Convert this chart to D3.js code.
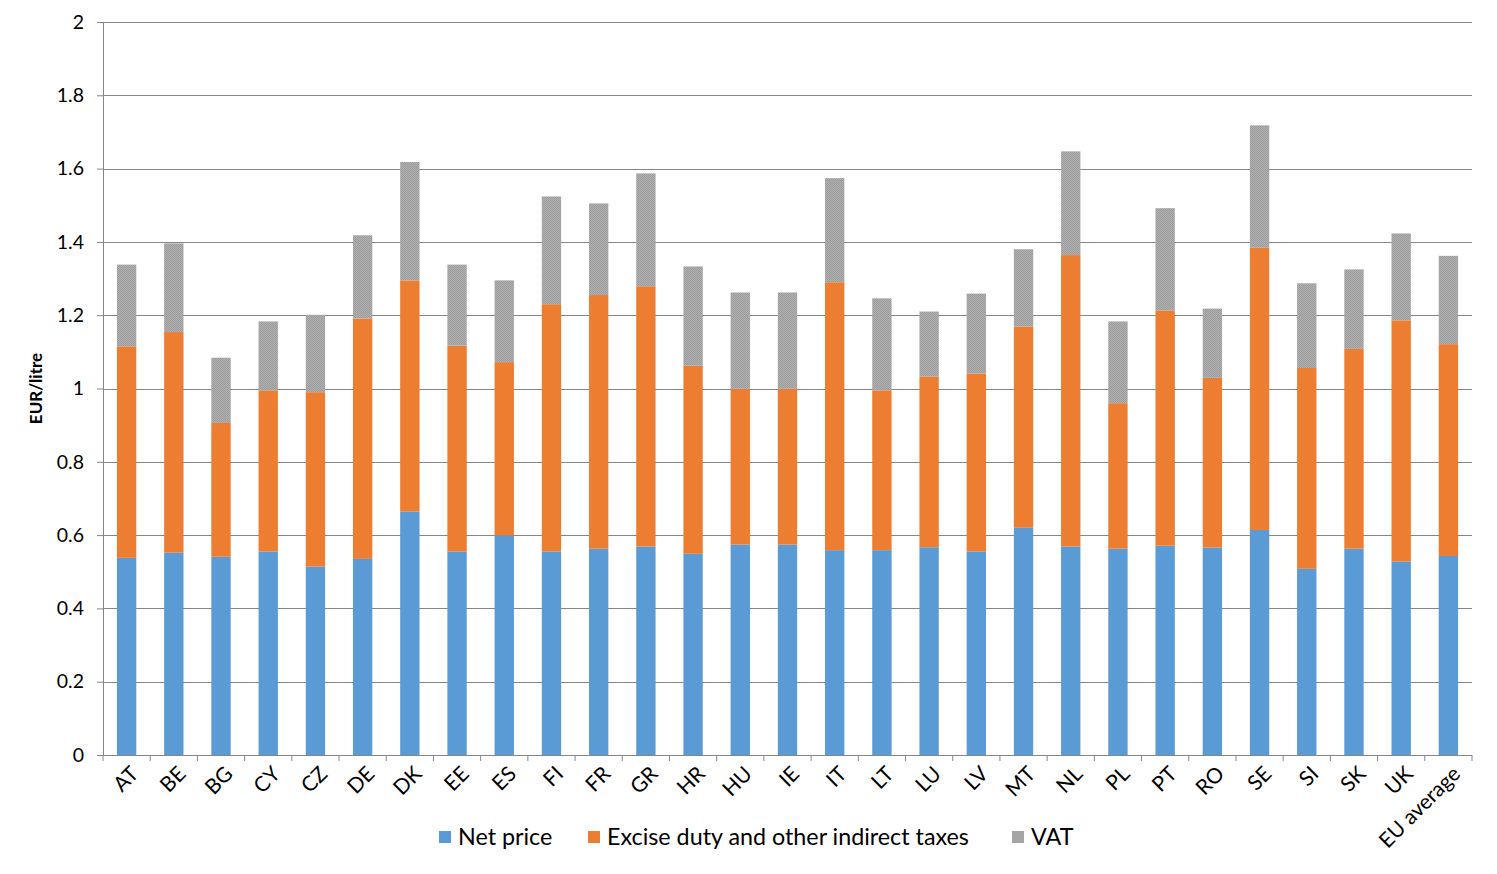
<!DOCTYPE html>
<html>
<head>
<meta charset="utf-8">
<script src="https://cdn.jsdelivr.net/npm/d3@7"></script>
<style>
  body { margin: 0; background: #fff; }
  text { font-family: Lato, "Open Sans", sans-serif; fill: #000; }
</style>
</head>
<body>
<svg id="chart" width="1497" height="874"></svg>
<script>
const countries = ["AT", "BE", "BG", "CY", "CZ", "DE", "DK", "EE", "ES", "FI", "FR", "GR", "HR", "HU",
  "IE", "IT", "LT", "LU", "LV", "MT", "NL", "PL", "PT", "RO", "SE", "SI", "SK", "UK", "EU average"];

const netPrice = [0.538, 0.552, 0.541, 0.555, 0.514, 0.535, 0.664, 0.555, 0.599, 0.555, 0.563, 0.569, 0.549, 0.574,
  0.574, 0.559, 0.559, 0.567, 0.555, 0.620, 0.569, 0.563, 0.571, 0.566, 0.614, 0.508, 0.563, 0.528, 0.543];

const exciseDuty = [0.577, 0.602, 0.365, 0.440, 0.476, 0.656, 0.631, 0.562, 0.473, 0.675, 0.692, 0.710, 0.513, 0.425,
  0.425, 0.731, 0.436, 0.466, 0.486, 0.549, 0.795, 0.397, 0.642, 0.463, 0.770, 0.548, 0.545, 0.658, 0.578];

const vat = [0.223, 0.242, 0.178, 0.188, 0.211, 0.227, 0.323, 0.221, 0.223, 0.294, 0.250, 0.308, 0.271, 0.263,
  0.263, 0.284, 0.251, 0.177, 0.218, 0.211, 0.283, 0.223, 0.279, 0.189, 0.334, 0.231, 0.217, 0.237, 0.241];

const seriesNames = ["Net price", "Excise duty and other indirect taxes", "VAT"];
const yTicks = [0, 0.2, 0.4, 0.6, 0.8, 1, 1.2, 1.4, 1.6, 1.8, 2];

const rows = countries.map((c, i) => ({ country: c, net: netPrice[i], excise: exciseDuty[i], vat: vat[i] }));
const keys = ["net", "excise", "vat"];

const plotLeft = 103, plotRight = 1472, plotTop = 22, plotBottom = 755;
const gridColor = "#868686";

const svg = d3.select("#chart");

// fine dotted texture for VAT, like the Excel fill
const defs = svg.append("defs");
const pat = defs.append("pattern")
  .attr("id", "vatFill")
  .attr("width", 2).attr("height", 2)
  .attr("patternUnits", "userSpaceOnUse");
pat.append("rect").attr("width", 2).attr("height", 2).attr("fill", "#b0b0b0");
pat.append("rect").attr("width", 1).attr("height", 1).attr("fill", "#9c9c9c");
pat.append("rect").attr("x", 1).attr("y", 1).attr("width", 1).attr("height", 1).attr("fill", "#9c9c9c");

const color = d3.scaleOrdinal().domain(keys).range(["#5b9bd5", "#ed7d31", "url(#vatFill)"]);
const legendColor = ["#5b9bd5", "#ed7d31", "#a5a5a5"];

const x = d3.scaleBand()
  .domain(countries)
  .range([plotLeft, plotRight])
  .paddingInner(0.59)
  .paddingOuter(0.295);

const y = d3.scaleLinear().domain([0, 2]).range([plotBottom, plotTop]);

// gridlines + y axis
const yAxis = svg.append("g")
  .attr("transform", `translate(${plotLeft},0)`)
  .call(d3.axisLeft(y)
    .tickValues(yTicks)
    .tickSize(6)
    .tickFormat(d => String(+d.toFixed(1))));
yAxis.select(".domain").remove();
yAxis.selectAll(".tick line").attr("stroke", gridColor);
yAxis.selectAll(".tick text")
  .attr("x", -19)
  .style("font-size", "19.5px");

svg.append("g")
  .selectAll("line")
  .data(yTicks.filter(d => d > 0))
  .enter()
  .append("line")
  .attr("x1", plotLeft).attr("x2", plotRight)
  .attr("y1", d => Math.round(y(d)) + 0.5)
  .attr("y2", d => Math.round(y(d)) + 0.5)
  .attr("stroke", gridColor)
  .attr("stroke-width", 1.2);

// vertical axis line
svg.append("line")
  .attr("x1", plotLeft + 0.5).attr("x2", plotLeft + 0.5)
  .attr("y1", y(2)).attr("y2", y(0))
  .attr("stroke", gridColor);

// bars
const stacked = d3.stack().keys(keys)(rows);

svg.append("g")
  .selectAll("g")
  .data(stacked)
  .enter()
  .append("g")
  .attr("fill", s => color(s.key))
  .selectAll("rect")
  .data(s => s)
  .enter()
  .append("rect")
  .attr("x", d => x(d.data.country))
  .attr("width", x.bandwidth())
  .attr("y", d => y(d[1]))
  .attr("height", d => y(d[0]) - y(d[1]));

// x axis with ticks at category boundaries
const boundaries = countries.map(c => x(c) + x.bandwidth() / 2 - x.step() / 2);
boundaries.push(plotRight);

svg.append("line")
  .attr("x1", plotLeft).attr("x2", plotRight)
  .attr("y1", plotBottom + 0.5).attr("y2", plotBottom + 0.5)
  .attr("stroke", gridColor)
  .attr("stroke-width", 1.2);

svg.append("g")
  .selectAll("line")
  .data(boundaries)
  .enter()
  .append("line")
  .attr("x1", d => d).attr("x2", d => d)
  .attr("y1", plotBottom).attr("y2", plotBottom + 6)
  .attr("stroke", gridColor);

svg.append("g")
  .selectAll("text")
  .data(countries)
  .enter()
  .append("text")
  .attr("transform", d => `translate(${x(d) + x.bandwidth() / 2 + 8},${plotBottom + 15}) rotate(-45)`)
  .attr("text-anchor", "end")
  .attr("dy", "0.35em")
  .style("font-size", "21px")
  .text(d => d);

// y title
svg.append("text")
  .attr("transform", `translate(42,${(plotTop + plotBottom) / 2}) rotate(-90)`)
  .attr("text-anchor", "middle")
  .style("font-size", "17px")
  .style("font-weight", "bold")
  .text("EUR/litre");

// legend
const legendX = [439, 588, 1012];
const legend = svg.append("g")
  .selectAll("g")
  .data(seriesNames)
  .enter()
  .append("g")
  .attr("transform", (d, i) => `translate(${legendX[i]},837)`);

legend.append("rect")
  .attr("y", -6)
  .attr("width", 12).attr("height", 12)
  .attr("fill", (d, i) => legendColor[i]);

legend.append("text")
  .attr("x", 19)
  .attr("dy", "0.35em")
  .style("font-size", "23.3px")
  .text(d => d);
</script>
</body>
</html>
